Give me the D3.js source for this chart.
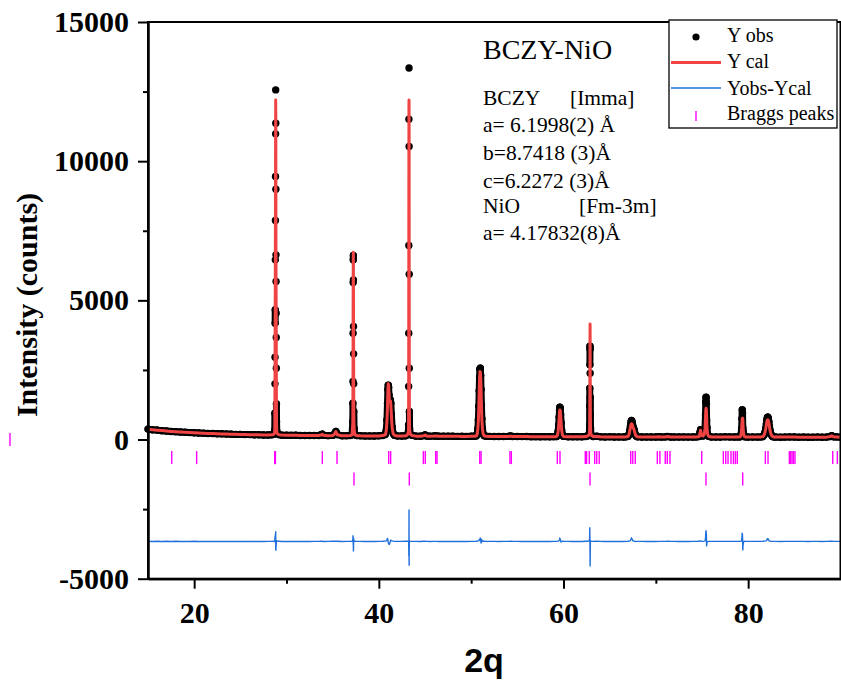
<!DOCTYPE html>
<html>
<head>
<meta charset="utf-8">
<script src="https://cdn.jsdelivr.net/npm/d3@7"></script>
<style>
  html, body { margin: 0; padding: 0; background: #fff; }
  svg { display: block; }
  text { font-family: "Liberation Serif", "Times New Roman", serif; }
</style>
</head>
<body>
<svg id="chart" width="841" height="689"></svg>
<script>
// ---------------- DATA ----------------
// XRD pattern rows: [2theta, Y obs, Y cal]
const pattern = [
  [15.0,375,370],[15.5,348,350],[16.0,338,335],[16.5,318,320],[17.0,308,305],[17.5,290,292],
  [18.0,283,280],[18.5,268,270],[19.0,262,260],[19.5,249,250],[20.0,246,242],[20.5,232,234],
  [21.0,229,227],[21.5,219,220],[22.0,216,214],[22.5,206,208],[23.0,204,202],[23.5,195,197],
  [24.0,194,192],[24.5,185,187],[25.0,185,183],[25.5,177,179],[26.0,177,175],[26.5,169,171],
  [27.0,170,168],[27.5,163,165],[28.0,164,162],[28.4,170,168],[28.6,185,182],[28.68,230,220],
  [28.73,348,330],[28.74,948,900],[28.75,2001,1850],[28.76,2960,2800],[28.77,4180,4000],
  [28.78,4659,4700],[28.79,6455,6300],[28.80,7867,7600],[28.81,9448,9300],[28.82,10981,10800],
  [28.83,12561,12200],[28.84,11365,11700],[28.85,8994,9300],[28.86,6635,6900],[28.87,5676,5800],
  [28.88,4539,4700],[28.89,3664,3750],[28.90,2565,2550],[28.91,1282,1250],[28.92,647,600],
  [28.95,300,290],[29.0,215,210],[29.2,175,172],[29.5,158,160],[30.0,156,155],[30.5,150,152],
  [31.0,152,150],[31.5,146,147],[32.0,146,145],[32.5,142,143],[33.0,142,141],[33.5,145,144],
  [33.75,170,165],[33.87,195,190],[34.0,150,152],[34.5,140,139],[35.0,150,146],[35.2,200,195],
  [35.35,290,285],[35.5,175,170],[36.0,137,138],[36.5,140,139],[36.9,145,143],[37.1,170,165],
  [37.18,647,600],[37.19,1307,1200],[37.20,2083,1950],[37.21,3822,3600],[37.22,5640,5600],
  [37.23,6455,6600],[37.24,6610,6730],[37.25,5737,6100],[37.26,4060,4200],[37.27,3078,3100],
  [37.28,2001,1900],[37.29,1006,950],[37.32,400,380],[37.40,180,175],[37.6,142,140],
  [38.0,134,133],[38.5,130,131],[39.0,130,129],[39.5,127,128],[40.0,132,130],[40.4,145,142],
  [40.70,180,170],[40.80,320,300],[40.88,700,650],[40.94,1300,1180],[40.98,1800,1750],
  [41.02,1950,2000],[41.06,1880,1950],[41.10,1600,1700],[41.14,1350,1450],[41.18,1300,1360],
  [41.22,1380,1400],[41.26,1420,1390],[41.30,1300,1260],[41.36,900,880],[41.44,450,430],
  [41.55,220,210],[41.70,150,150],[42.0,130,130],[42.5,126,125],[42.9,135,132],[43.1,170,165],
  [43.21,300,290],[43.22,528,500],[43.23,1904,2000],[43.24,3822,4000],[43.25,6969,7500],
  [43.26,11509,12000],[43.27,13350,12200],[43.28,10525,11400],[43.29,5941,6200],[43.30,2565,2700],
  [43.31,1006,1000],[43.33,400,390],[43.40,200,195],[43.6,150,148],[44.0,123,122],[44.5,120,121],
  [44.85,140,135],[45.0,165,160],[45.2,125,124],[45.5,118,119],[46.0,126,124],[46.2,130,128],
  [46.5,117,118],[47.0,118,117],[47.5,115,116],[48.0,116,115],[48.5,113,114],[49.0,114,113],
  [49.5,112,113],[50.0,116,115],[50.3,120,118],
  [50.55,130,125],[50.65,200,190],[50.72,380,360],[50.78,700,680],[50.83,1200,1180],
  [50.87,1750,1700],[50.91,2250,2200],[50.95,2530,2440],[50.99,2565,2430],[51.03,2300,2250],
  [51.07,1800,1850],[51.11,1250,1300],[51.16,750,700],[51.22,400,380],[51.30,200,195],
  [51.40,140,135],[51.6,118,117],[52.0,112,112],[52.5,111,110],[53.0,108,109],[53.5,110,109],
  [54.0,112,111],[54.25,125,122],[54.5,110,109],[55.0,108,107],[55.5,105,106],[56.0,106,105],
  [56.5,103,104],[57.0,104,103],[57.5,102,103],[58.0,103,102],[58.5,100,101],[59.0,104,103],
  [59.25,110,108],[59.35,170,160],[59.42,300,290],[59.48,520,500],[59.53,800,770],
  [59.57,1050,1000],[59.61,1163,1060],[59.65,1120,1040],[59.69,900,880],[59.74,600,620],
  [59.80,330,340],[59.88,180,175],[59.98,115,112],[60.5,101,100],[61.0,98,99],[61.5,99,98],
  [62.0,97,98],[62.4,110,105],[62.6,130,125],
  [62.80,200,180],[62.83,528,400],[62.84,1210,700],[62.85,1846,1500],[62.86,2683,2600],
  [62.87,3350,3600],[62.88,3250,4150],[62.89,2385,3000],[62.90,1523,1800],[62.91,887,900],
  [62.93,400,380],[62.97,180,170],[63.2,110,110],[63.6,115,112],[64.0,97,96],[64.5,94,95],
  [65.0,96,95],[65.5,93,94],[66.0,95,94],[66.5,93,94],[66.8,100,100],
  [67.00,120,115],[67.10,200,190],[67.18,330,310],[67.25,480,450],[67.31,620,540],
  [67.36,683,565],[67.41,660,560],[67.47,560,510],[67.53,460,440],[67.60,400,390],
  [67.67,330,320],[67.75,210,215],[67.85,130,130],[68.00,100,100],[68.5,93,92],[69.0,91,92],
  [69.5,92,91],[70.0,90,91],[70.3,102,100],[70.6,92,91],[71.0,95,94],[71.25,108,105],
  [71.6,93,92],[72.0,91,90],[72.5,89,90],[73.0,90,89],[73.5,88,89],[74.0,90,89],[74.4,95,94],
  [74.70,110,105],[74.78,250,230],[74.84,350,330],[74.90,260,250],[74.98,160,155],
  [75.10,130,128],[75.25,200,190],[75.33,420,400],[75.38,900,800],[75.41,1350,1050],
  [75.44,1523,1127],[75.47,1300,1050],[75.50,700,880],[75.54,420,450],[75.60,200,210],
  [75.70,120,120],[76.0,90,90],[76.5,89,88],[77.0,88,88],[77.5,96,94],[78.0,95,95],
  [78.5,93,92],[78.9,94,94],
  [79.15,100,98],[79.24,200,190],[79.29,400,360],[79.33,750,600],[79.36,1067,760],
  [79.39,950,769],[79.42,420,750],[79.45,300,420],[79.50,200,220],[79.58,120,115],
  [79.70,95,95],[80.0,88,88],[80.5,87,87],[81.0,88,87],[81.4,95,95],
  [81.60,110,105],[81.72,160,150],[81.82,260,250],[81.90,400,380],[81.97,560,530],
  [82.03,700,650],[82.08,790,700],[82.13,805,708],[82.18,760,680],[82.24,640,600],
  [82.30,480,470],[82.38,320,310],[82.48,190,185],[82.60,120,118],[82.75,95,95],
  [83.0,88,88],[83.5,86,87],[84.0,88,87],[84.5,94,92],[85.0,93,92],[85.5,86,86],[86.0,87,86],
  [86.5,85,86],[87.0,86,86],[87.5,87,86],[88.0,85,86],[88.5,87,86],[88.9,110,105],
  [89.05,140,135],[89.25,100,98],[89.6,95,94],[90.0,86,86]
];

// offset applied to the difference curve
const diffOffset = -3660;

// Bragg reflection positions (2theta)
const braggBCZY = [17.57,20.27,28.72,28.80,33.88,35.47,41.07,41.28,44.82,45.03,46.16,46.30,
  50.93,51.07,54.20,54.35,59.33,59.62,62.36,62.50,62.79,63.38,63.60,63.87,67.28,67.50,67.77,
  70.16,70.44,71.02,71.24,71.53,74.97,77.31,77.57,77.82,78.14,78.40,78.61,78.82,81.86,82.15,
  84.46,84.60,84.75,84.90,85.07,89.16,89.66];
const braggNiO = [37.31,43.30,62.87,75.43,79.41];
const braggLevels = [-650, -1420];     // intensity level of each tick row
const strayBragg = [[0.05, 0]];          // one tick drawn left of the frame

// axes
const xMajor = [20, 40, 60, 80];
const xMinor = [30, 50, 70];
const yMajor = [-5000, 0, 5000, 10000, 15000];
const yMinor = [-2500, 2500, 7500, 12500];
const xDomain = [15, 90];
const yDomain = [-5000, 15000];

const legendLabels = ["Y obs", "Y cal", "Yobs-Ycal", "Braggs peaks"];
const titleText = "BCZY-NiO";
const infoLines = [
  ["BCZY", "[Imma]"],
  ["a= 6.1998(2) Å", ""],
  ["b=8.7418 (3)Å", ""],
  ["c=6.2272 (3)Å", ""],
  ["NiO", "[Fm-3m]"],
  ["a= 4.17832(8)Å", ""]
];

// ---------------- DRAW ----------------
const svg = d3.select("#chart");
const L = 148, R = 840.5, T = 22, B = 578.7;
const x = d3.scaleLinear().domain(xDomain).range([L, R]);
const y = d3.scaleLinear().domain(yDomain).range([B, T]);

const RED = "#f04444", BLUE = "#1f6fdc", MAG = "#ff00ff";

// difference curve
const diffLine = d3.line().x(d => x(d[0])).y(d => y(d[1] - d[2] + diffOffset));
svg.append("path").datum(pattern).attr("d", diffLine)
  .attr("fill", "none").attr("stroke", BLUE).attr("stroke-width", 1.4);

// bragg ticks
const tickH = 6.5;
[braggBCZY, braggNiO].forEach((arr, i) => {
  svg.append("g").selectAll("line").data(arr).join("line")
    .attr("x1", d => x(d)).attr("x2", d => x(d))
    .attr("y1", y(braggLevels[i]) - tickH).attr("y2", y(braggLevels[i]) + tickH)
    .attr("stroke", MAG).attr("stroke-width", 1.4);
});
svg.append("g").selectAll("line").data(strayBragg).join("line")
  .attr("x1", d => x(d[0])).attr("x2", d => x(d[0]))
  .attr("y1", d => y(d[1]) - tickH).attr("y2", d => y(d[1]) + tickH)
  .attr("stroke", MAG).attr("stroke-width", 1.4);

// observed: where consecutive points sit close together the dots merge into a band
const segs = d3.pairs(pattern).filter(([a, b]) => Math.abs(y(a[1]) - y(b[1])) < 20);
svg.append("g").selectAll("line").data(segs).join("line")
  .attr("x1", d => x(d[0][0])).attr("y1", d => y(d[0][1]))
  .attr("x2", d => x(d[1][0])).attr("y2", d => y(d[1][1]))
  .attr("stroke", "#000").attr("stroke-width", 7).attr("stroke-linecap", "round");
svg.append("g").selectAll("circle").data(pattern).join("circle")
  .attr("cx", d => x(d[0])).attr("cy", d => y(d[1])).attr("r", 3.7)
  .attr("fill", "#000");

// calculated line
const calLine = d3.line().x(d => x(d[0])).y(d => y(d[2]));
svg.append("path").datum(pattern).attr("d", calLine)
  .attr("fill", "none").attr("stroke", RED).attr("stroke-width", 3)
  .attr("stroke-linejoin", "round");

// frame
svg.append("rect").attr("x", L).attr("y", T).attr("width", R - L).attr("height", B - T)
  .attr("fill", "none").attr("stroke", "#000").attr("stroke-width", 2);

// axes
const fmt = d => String(d);
svg.append("g").attr("transform", `translate(0,${B})`)
  .call(d3.axisBottom(x).tickValues(xMajor).tickSize(10).tickSizeOuter(0).tickPadding(13).tickFormat(fmt));
svg.append("g").attr("transform", `translate(0,${B})`)
  .call(d3.axisBottom(x).tickValues(xMinor).tickSize(5).tickSizeOuter(0).tickFormat(""));
svg.append("g").attr("transform", `translate(${L},0)`)
  .call(d3.axisLeft(y).tickValues(yMajor).tickSize(10).tickSizeOuter(0).tickPadding(9).tickFormat(fmt));
svg.append("g").attr("transform", `translate(${L},0)`)
  .call(d3.axisLeft(y).tickValues(yMinor).tickSize(5).tickSizeOuter(0).tickFormat(""));
svg.selectAll(".domain").attr("stroke-width", 2);
svg.selectAll(".tick line").attr("stroke-width", 2);
svg.selectAll(".tick text")
  .attr("font-family", "Liberation Serif, Times New Roman, serif")
  .attr("font-size", 30).attr("font-weight", "bold").attr("fill", "#000");

// axis titles
svg.append("text").attr("transform", "translate(37,305) rotate(-90)")
  .attr("text-anchor", "middle").attr("font-size", 30).attr("font-weight", "bold")
  .text("Intensity (counts)");
svg.append("text").attr("x", 484).attr("y", 672).attr("text-anchor", "middle")
  .style("font-family", "'Liberation Sans', Arial, sans-serif")
  .attr("font-size", 34).attr("font-weight", "bold").text("2q");

// annotation
svg.append("text").attr("x", 483).attr("y", 59).attr("font-size", 28).text(titleText);
const infoY = [105, 132, 160, 188, 213, 240];
const infoX2 = [570, 0, 0, 0, 579, 0];
infoLines.forEach((ln, i) => {
  svg.append("text").attr("x", 483).attr("y", infoY[i]).attr("font-size", 21.5).text(ln[0]);
  if (ln[1]) svg.append("text").attr("x", infoX2[i]).attr("y", infoY[i]).attr("font-size", 21.5).text(ln[1]);
});

// legend
const lg = svg.append("g");
lg.append("rect").attr("x", 669).attr("y", 20).attr("width", 168).attr("height", 108)
  .attr("fill", "#fff").attr("stroke", "#000").attr("stroke-width", 1.3);
const rowY = [37, 62.5, 88, 116];
const textY = [42, 68, 95, 120];
lg.append("circle").attr("cx", 696).attr("cy", rowY[0]).attr("r", 3.6).attr("fill", "#000");
lg.append("line").attr("x1", 671).attr("x2", 721).attr("y1", rowY[1]).attr("y2", rowY[1])
  .attr("stroke", RED).attr("stroke-width", 3);
lg.append("line").attr("x1", 671).attr("x2", 721).attr("y1", rowY[2]).attr("y2", rowY[2])
  .attr("stroke", BLUE).attr("stroke-width", 1.4);
lg.append("line").attr("x1", 696).attr("x2", 696).attr("y1", rowY[3] - 5).attr("y2", rowY[3] + 5)
  .attr("stroke", MAG).attr("stroke-width", 1.4);
legendLabels.forEach((t, i) => {
  lg.append("text").attr("x", 727).attr("y", textY[i]).attr("font-size", 20).text(t);
});
</script>
</body>
</html>
